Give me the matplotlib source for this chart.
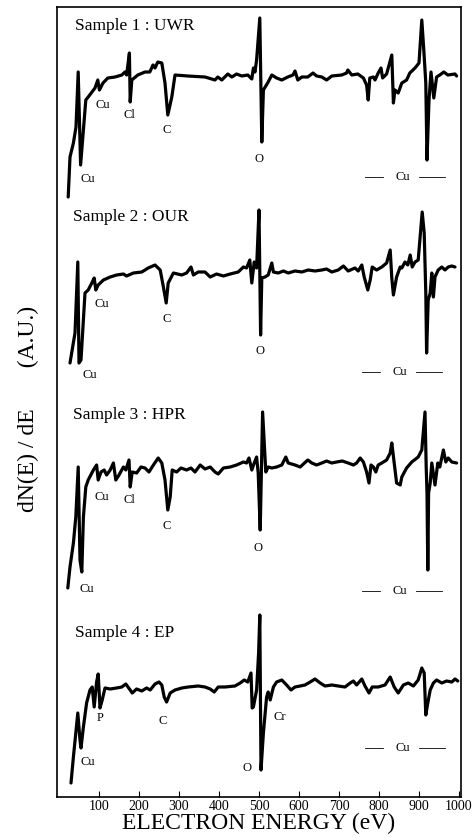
import matplotlib
matplotlib.use("Agg")
import matplotlib.pyplot as plt

plt.rcParams['font.family'] = ['Liberation Serif', 'DejaVu Serif']

# Auger spectra, energy in eV and dN(E)/dE in A.U. (relative to each trace's baseline)
e1 = [23, 27.5, 36, 42.5, 48, 54, 67, 73, 90, 97, 101, 110, 122, 140, 157, 165, 169, 176, 178, 182,
      197, 215, 227, 235, 240, 247, 257, 265, 272, 282, 290, 322, 365, 390, 397, 407, 422, 432, 444, 457,
      472, 482, 486, 490, 494, 502, 507, 511, 523, 532, 544, 557, 572, 585, 590, 597, 607, 622, 635, 644,
      657, 669, 682, 707, 719, 722, 732, 747, 761, 769, 773, 777, 786, 790, 798, 805, 809, 819, 832, 836,
      840, 848, 857, 869, 877, 890, 900, 907, 912, 917, 920, 925, 930, 937, 944, 952, 962, 972, 990, 994]
v1 = [-121, -81, -67, -51, 4, -89, -24, -21, -12, -4, -14, -7, -2, -1, 1, 4, 1, 23, -26, -4,
      1, 4, 4, 11, 8, 14, 13, -7, -39, -21, 1, 0, -1, -4, -1, -4, 2, -1, 2, 0,
      1, -3, 8, 4, 16, 58, -66, -14, -6, 1, -2, -4, -1, 1, 5, -4, -1, -1, 3, 0,
      -1, -4, 0, 1, 3, 6, 1, 2, -2, -9, -24, -2, -1, -4, 3, 8, -2, 2, 21, -27,
      -14, -17, -7, -4, 3, 8, 13, 56, 26, -7, -84, -24, 4, -22, -1, 1, 4, 1, 2, 0]

e2 = [27.5, 40, 47, 50, 55, 65, 73, 82, 88, 92, 98, 111, 128, 144, 161, 169, 186, 207, 223, 240,
      253, 261, 268, 273, 286, 307, 319, 330, 336, 348, 365, 378, 394, 411, 428, 448, 461, 469, 477, 482,
      488, 494, 500, 504, 507, 515, 523, 532, 536, 548, 561, 573, 590, 607, 623, 640, 657, 669, 682, 698,
      711, 723, 740, 748, 757, 763, 772, 778, 783, 794, 807, 819, 828, 832, 836, 844, 853, 857, 865, 872,
      878, 883, 890, 898, 908, 913, 917, 919, 923, 928, 932, 936, 940, 948, 957, 965, 973, 982, 990]
v2 = [-91, -61, 10, -91, -88, -21, -18, -11, -6, -18, -13, -8, -5, -3, -2, -4, -1, 0, 4, 7,
      2, -15, -31, -11, -1, -3, -1, 5, -3, 0, 0, -5, -2, -4, -2, 0, 5, 4, 12, -11,
      10, 4, 62, -63, -6, -5, -3, 9, 0, -1, 1, -1, 1, 0, 2, 1, 2, 3, 0, 2,
      6, 1, 4, 1, 7, -5, -18, -8, 5, 2, 5, 9, 22, -6, -23, -5, 5, 4, 10, 7,
      17, 5, 10, 12, 60, 39, -21, -81, -28, -21, -1, -25, -5, 2, 5, 2, 5, 6, 5]

e3 = [22, 27.5, 36, 42, 48, 52.5, 57, 61, 67, 73, 86, 94, 98, 105, 113, 119, 128, 136, 142, 150,
      161, 167, 175, 178, 183, 194, 205, 215, 225, 236, 248, 257, 265, 272, 278, 283, 294, 305, 319, 330,
      340, 353, 365, 378, 390, 398, 411, 428, 444, 461, 469, 475, 482, 488, 494, 498, 503, 509, 517, 523,
      532, 544, 557, 567, 573, 590, 603, 611, 622, 632, 644, 657, 669, 682, 694, 708, 723, 736, 744, 753,
      761, 769, 775, 780, 786, 792, 798, 807, 819, 828, 832, 838, 844, 853, 857, 869, 882, 898, 907, 915,
      918, 920, 922, 924, 928, 932, 940, 947, 952, 961, 967, 973, 982, 994]
v3 = [-122, -101, -77, -51, -1, -94, -106, -51, -21, -14, -4, 1, -14, -6, -4, -9, -4, 3, -14, -9,
      -1, -4, 6, -21, -6, -7, -1, -2, -6, 1, 8, 3, -14, -44, -31, -4, -6, -2, -4, -2,
      -6, 1, -3, -1, -6, -8, -2, -1, 1, 4, 3, 8, -4, 3, 9, -7, -64, 54, -6, -1,
      -2, -1, 1, 9, 3, 1, -1, 2, 6, 3, 1, 3, 5, 3, 4, 5, 3, 1, 3, 8,
      4, -6, -17, 1, -1, -6, 1, 3, 6, 13, 23, 3, -17, -19, -11, -2, 4, 9, 16, 54,
      -1, -27, -104, -27, -17, 3, -19, 3, -1, 16, 4, 8, 4, 3]

e4 = [30, 36, 42, 47, 52.5, 55, 61, 69, 77.5, 83, 88, 94, 98, 102.5, 108, 115, 128, 144, 157, 167,
      178, 183, 194, 207, 219, 228, 240, 250, 257, 263, 269, 278, 290, 307, 323, 348, 365, 378, 388, 398,
      415, 440, 453, 463, 472, 480, 483, 486, 494, 499, 502, 505, 511, 519, 523, 528, 536, 544, 557, 569,
      580, 590, 603, 615, 628, 640, 653, 665, 682, 698, 715, 728, 736, 744, 757, 765, 775, 783, 798, 815,
      828, 838, 848, 861, 873, 886, 898, 907, 913, 917, 922, 928, 936, 944, 957, 969, 982, 990, 997]
v4 = [-96, -70, -46, -26, -53, -61, -40, -16, -3, 0, -20, 5, 13, -21, -13, -1, -2, -1, 0, 3,
      -3, -6, -2, -4, -1, -3, 3, 5, 2, -10, -15, -6, -3, -1, 0, 1, 0, -2, -5, 0,
      0, 1, 4, 7, 5, 14, -21, -20, -3, 34, 72, -83, -46, -10, -5, -13, 0, 5, 7, 2,
      -3, 0, 1, 2, 5, 8, 4, 1, 2, 1, 0, 4, 6, 2, 8, 1, -6, 0, 0, 2,
      10, 0, -6, 2, 4, 1, 7, 19, 14, -28, -16, -3, 4, 7, 4, 6, 5, 8, 6]

energies = [e1, e2, e3, e4]
signals = [v1, v2, v3, v4]
names = ["Sample 1 : UWR", "Sample 2 : OUR", "Sample 3 : HPR", "Sample 4 : EP"]
offsets = [721, 525, 331, 110]
name_pos = [(40, 771), (35, 580), (35, 382), (40, 164)]

# peak labels: (text, energy, height)
peaks = [
    [("Cu", 110, 692), ("Cl", 175, 682), ("C", 269, 667), ("O", 500, 638), ("Cu", 72, 618)],
    [("Cu", 107, 493), ("C", 269, 478), ("O", 502, 446), ("Cu", 77, 422)],
    [("Cu", 107, 300), ("Cl", 177, 297), ("C", 269, 271), ("O", 497, 249), ("Cu", 70, 208)],
    [("P", 104, 79), ("C", 260, 76), ("Cr", 552, 80), ("O", 469, 29), ("Cu", 72, 35)],
]
cu_high = [(860, 620), (852, 425), (852, 206), (860, 49)]

fig = plt.figure(figsize=(4.77, 8.38), dpi=100)
ax = fig.add_axes([57 / 477, 41 / 838, 404 / 477, 790 / 838])

for e, v, off in zip(energies, signals, offsets):
    ax.plot(e, [val + off for val in v], color="black", lw=2.3,
            solid_joinstyle="round", solid_capstyle="round")

for name, (x, y) in zip(names, name_pos):
    ax.text(x, y, name, fontsize=12.5, ha="left", va="center")

for plist in peaks:
    for txt, x, y in plist:
        ax.text(x, y, txt, fontsize=9, ha="center", va="center")

for x, y in cu_high:
    ax.text(x, y, "Cu", fontsize=9, ha="center", va="center")
    ax.plot([x - 95, x - 50], [y, y], color="black", lw=0.6)
    ax.plot([x + 40, x + 105], [y, y], color="black", lw=0.6)

ax.set_xlim(-5, 1005)
ax.set_ylim(0, 790)
ax.set_xticks(range(100, 1001, 100))
ax.set_yticks([])
ax.tick_params(axis="x", direction="in", length=4, width=0.8, labelsize=10, pad=2)
for s in ax.spines.values():
    s.set_linewidth(1.2)

ax.set_xlabel("ELECTRON ENERGY (eV)", fontsize=17, labelpad=0)
fig.text(28 / 477, 1 - 409 / 838, "dN(E) / dE       (A.U.)", fontsize=17,
         rotation=90, ha="center", va="center")

fig.savefig("out.png", dpi=100)
